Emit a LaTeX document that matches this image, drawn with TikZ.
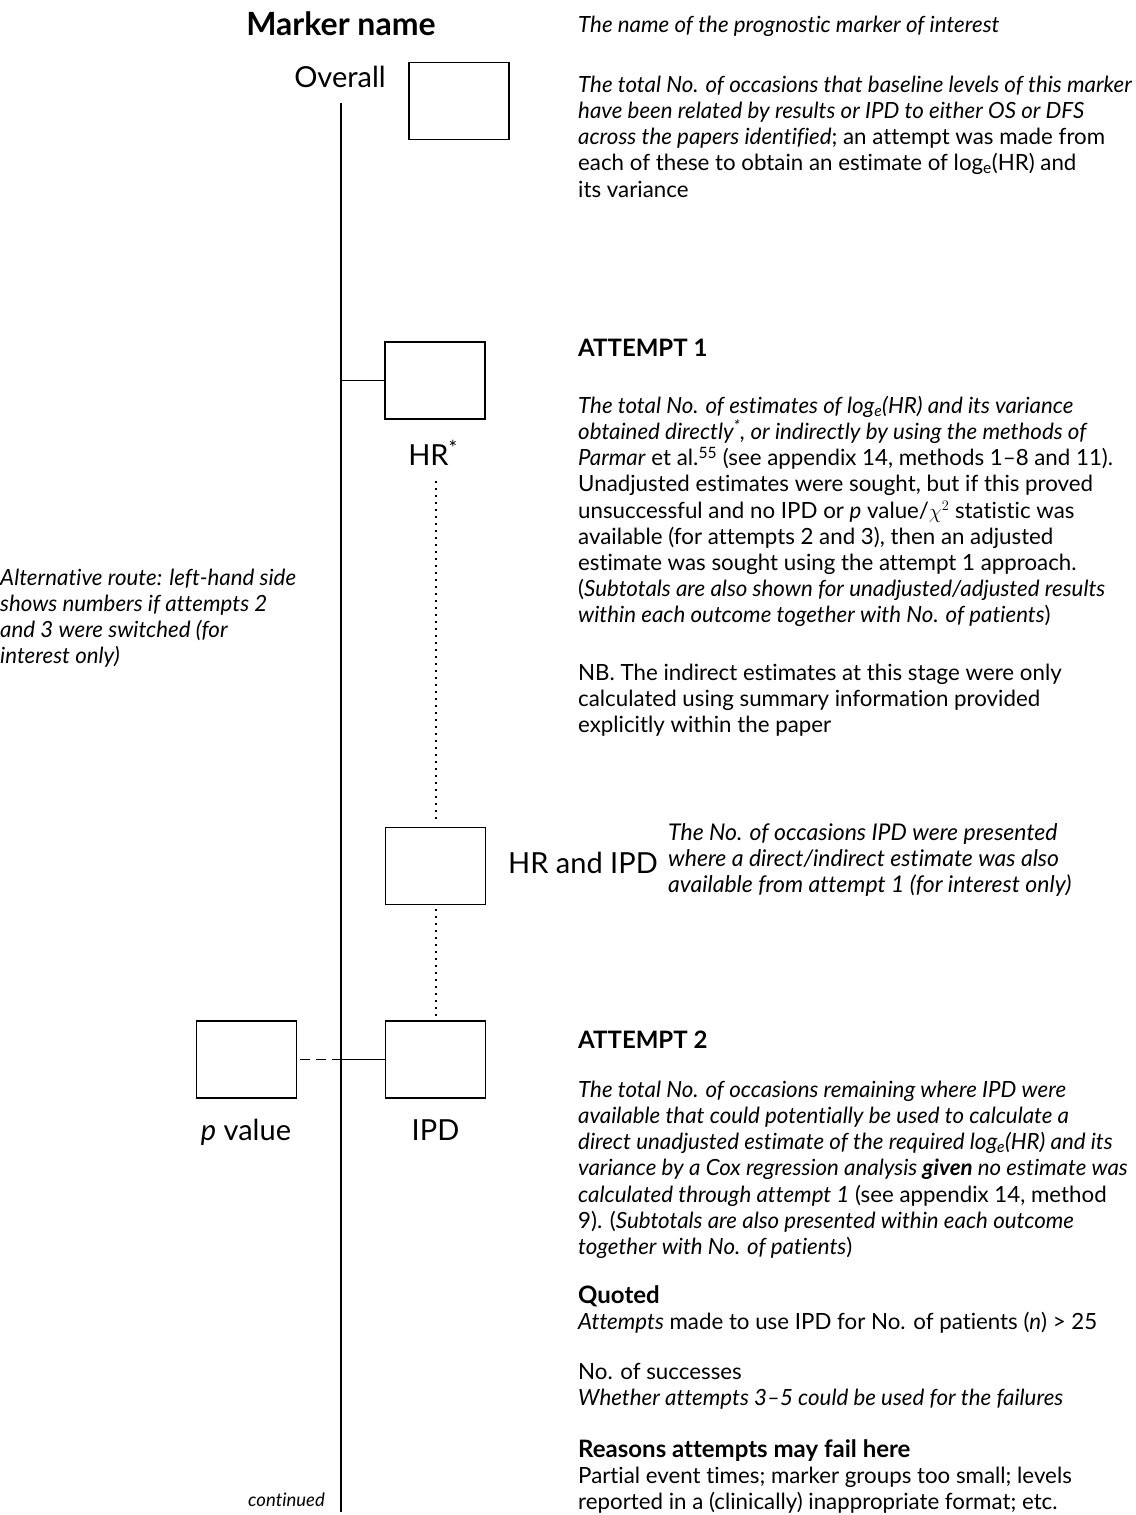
\documentclass[tikz,border=0pt]{standalone}
\usepackage{fontspec}
\setmainfont{Lato}[Ligatures=NoCommon]
\newcommand{\mystrut}{\rule{0pt}{20pt}}
\newcommand{\hd}[1]{{\bfseries\fontsize{24}{26.2}\selectfont #1}}
\tikzset{
  box/.style={draw, line width=1.6pt, minimum width=100pt, minimum height=77pt, inner sep=0pt},
  txt/.style={inner sep=0pt, anchor=north west, align=left, font=\fontsize{22.3}{26.2}\selectfont},
  txti/.style={txt, font=\itshape\fontsize{22.3}{26.2}\selectfont},
  big/.style={inner sep=0pt, anchor=base, font=\fontsize{29}{34}\selectfont},
  conn/.style={line width=1.6pt},
  dotline/.style={line width=2pt, dash pattern=on 2pt off 5pt},
  dashline/.style={line width=1.6pt, dash pattern=on 10pt off 6pt}
}
\begin{document}
\begin{tikzpicture}[x=1pt,y=-1pt]
\useasboundingbox (0,0) rectangle (1135,1515);
% left column
\node[big, font=\bfseries\fontsize{32}{36}\selectfont] (title) at (341,35) {Marker name};
\node[big] (overall) at (340,87) {Overall};
\node[box] (boxo) at (459,101) {};
\node[box] (boxhr) at (435,380.5) {};
\node[big] (hrlab) at (433,465) {HR\textsuperscript{*}};
\node[box] (boxhi) at (435.5,866) {};
\node[big, anchor=base west] (hilab) at (508,873) {HR and IPD};
\node[box] (boxipd) at (435.5,1059.5) {};
\node[box] (boxp) at (246.5,1059.5) {};
\node[big] (plab) at (246,1140) {\textit{p} value};
\node[big] (ipdlab) at (435.5,1140) {IPD};
\coordinate (top) at (341,103);
\coordinate (bot) at (341,1512);
\draw[conn] (top) -- (bot);
\draw[conn] (boxhr.west) -- (boxhr.west -| top);
\draw[conn] (boxipd.west) -- (boxipd.west -| top);
\draw[dashline, shorten <=3pt] (boxp.east) -- (boxp.east -| top);
\draw[dotline, shorten <=16pt, shorten >=4pt] (hrlab.south -| boxhi.north) -- (boxhi.north);
\draw[dotline, shorten <=4pt, shorten >=4pt] (boxhi.south) -- (boxipd.north);
\node[txti] (leftnote) at (0,565) {\mystrut Alternative route: left-hand side\\ shows numbers if attempts 2\\ and 3 were switched (for\\ interest only)};
\node[inner sep=0pt, anchor=base east, font=\itshape\fontsize{18.5}{22}\selectfont] (cont) at (325,1506) {continued};
% right column
\node[txt] (desc0) at (578,12) {\mystrut\textit{The name of the prognostic marker of interest}};
\node[txt] (desc1) at (578,72) {\mystrut\textit{The total No. of occasions that baseline levels of this marker}\\
\textit{have been related by results or IPD to either OS or DFS}\\
\textit{across the papers identified}; an attempt was made from\\
each of these to obtain an estimate of log\textsubscript{e}(HR) and\\
its variance};
\node[txt] (att1) at (578,336) {\mystrut\hd{ATTEMPT 1}};
\node[txt] (blk1) at (578,393) {\mystrut\textit{The total No. of estimates of log\textsubscript{e}(HR) and its variance}\\
\textit{obtained directly\textsuperscript{*}, or indirectly by using the methods of}\\
\textit{Parmar} et al.\textsuperscript{55} (see appendix 14, methods 1--8 and 11).\\
Unadjusted estimates were sought, but if this proved\\
unsuccessful and no IPD or \textit{p} value/$\chi^2$ statistic was\\
available (for attempts 2 and 3), then an adjusted\\
estimate was sought using the attempt 1 approach.\\
(\textit{Subtotals are also shown for unadjusted/adjusted results}\\
\textit{within each outcome together with No. of patients})};
\node[txt] (nb) at (578,660) {\mystrut NB. The indirect estimates at this stage were only\\
calculated using summary information provided\\
explicitly within the paper};
\node[txti, font=\itshape\fontsize{23}{26.2}\selectfont] (hinote) at (668,820) {\mystrut The No. of occasions IPD were presented\\
where a direct/indirect estimate was also\\
available from attempt 1 (for interest only)};
\node[txt] (att2) at (578,1028) {\mystrut\hd{ATTEMPT 2}};
\node[txt] (blk2) at (578,1077) {\mystrut\textit{The total No. of occasions remaining where IPD were}\\
\textit{available that could potentially be used to calculate a}\\
\textit{direct unadjusted estimate of the required log\textsubscript{e}(HR) and its}\\
\textit{variance by a Cox regression analysis \textbf{given} no estimate was}\\
\textit{calculated through attempt 1} (see appendix 14, method\\
9). (\textit{Subtotals are also presented within each outcome}\\
\textit{together with No. of patients})};
\node[txt] (quoted) at (578,1283) {\mystrut\hd{Quoted}\\
\textit{Attempts} made to use IPD for No. of patients (\textit{n}) > 25};
\node[txt] (succ) at (578,1359) {\mystrut No. of successes\\
\textit{Whether attempts 3--5 could be used for the failures}};
\node[txt] (reasons) at (578,1437) {\mystrut\hd{Reasons attempts may fail here}\\
Partial event times; marker groups too small; levels\\
reported in a (clinically) inappropriate format; etc.};
\end{tikzpicture}
\end{document}
